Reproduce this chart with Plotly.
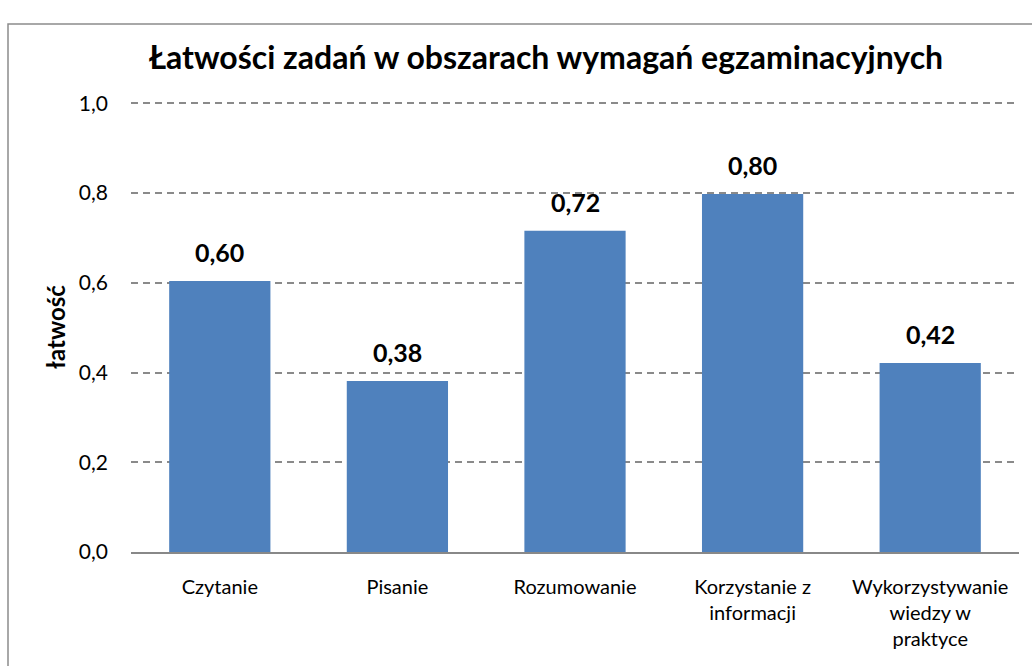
import plotly.graph_objects as go

categories = ["Czytanie", "Pisanie", "Rozumowanie", "Korzystanie z<br>informacji", "Wykorzystywanie<br>wiedzy w<br>praktyce"]
values = [0.604, 0.381, 0.716, 0.798, 0.421]
labels = ["0,60", "0,38", "0,72", "0,80", "0,42"]
yticks = [0.0, 0.2, 0.4, 0.6, 0.8, 1.0]
ytick_text = ["0,0", "0,2", "0,4", "0,6", "0,8", "1,0"]

FONT = "Lato, 'Open Sans', sans-serif"

fig = go.Figure(go.Bar(
    x=categories, y=values, width=0.57,
    marker=dict(color="#4F81BD", line=dict(width=0)),
    cliponaxis=False,
))

for c, v, t in zip(categories, values, labels):
    fig.add_annotation(x=c, y=v, text="<b>" + t + "</b>", showarrow=False,
                       yanchor="bottom", yshift=12,
                       font=dict(family=FONT, size=25, color="black"))

L, R, T, B = 131, 13, 102, 114
W, H = 1032, 666
pw, ph = W - L - R, H - T - B

fig.update_layout(
    width=W, height=H,
    margin=dict(l=L, r=R, t=T, b=B, autoexpand=False),
    paper_bgcolor="white", plot_bgcolor="white",
    font=dict(family=FONT, size=20, color="black"),
    title=dict(text="<b>Łatwości zadań w obszarach wymagań egzaminacyjnych</b>",
               x=(546 - L) / pw, xref="paper", xanchor="center",
               y=1 - 58 / H, yanchor="middle",
               font=dict(family=FONT, size=32, color="black")),
    showlegend=False,
    xaxis=dict(showgrid=False, showline=True, linecolor="#888888", linewidth=2,
               ticks="", tickfont=dict(size=20), ticklabelstandoff=16),
    yaxis=dict(range=[0, 1.003], tickvals=yticks, ticktext=ytick_text,
               showgrid=True, gridcolor="#8a8a8a", griddash="7px,5px", gridwidth=1.5,
               zeroline=False, showline=False, ticks="", ticklabelstandoff=22,
               tickfont=dict(size=21),
               title=dict(text="<b>łatwość</b>", font=dict(size=24), standoff=6)),
    shapes=[dict(type="rect", xref="paper", yref="paper",
                 x0=(8 - L) / pw, x1=(W + 10 - L) / pw,
                 y0=-(B + 10) / ph, y1=1 + (T - 24) / ph,
                 line=dict(color="#8c8c8c", width=1.5), layer="below")],
)

fig.write_html("out.html", config={"displayModeBar": False},
               post_script="document.body.style.margin='0';document.body.style.overflow='hidden';")
